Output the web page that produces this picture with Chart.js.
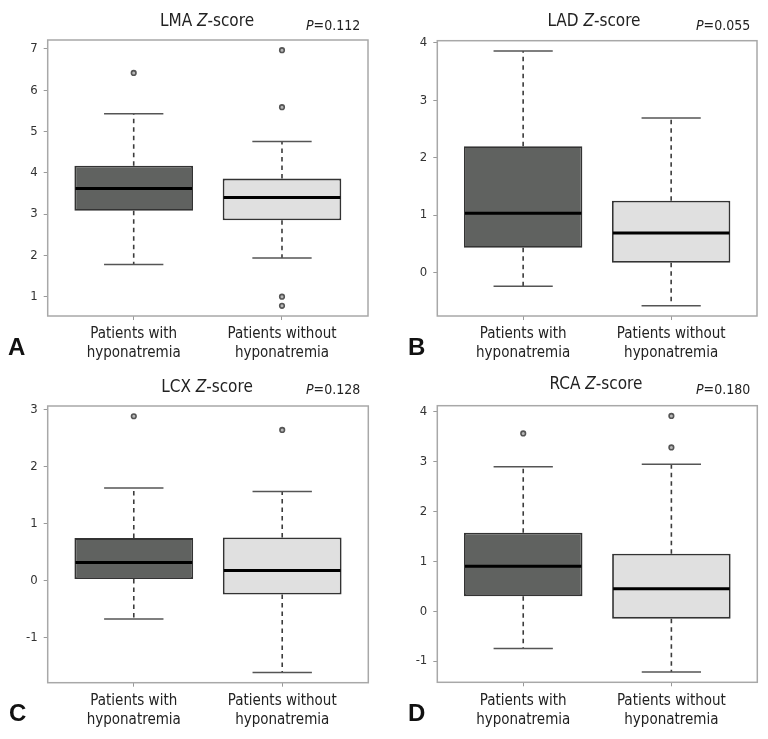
<!DOCTYPE html>
<html>
<head>
<meta charset="utf-8">
<script src="https://cdn.jsdelivr.net/npm/chart.js@4.4.0/dist/chart.umd.min.js"></script>
<style>
  body { margin: 0; background: #fff; width: 768px; height: 739px; position: relative; overflow: hidden;
         font-family: "Liberation Sans Narrow", "DejaVu Sans Condensed", "Liberation Sans", sans-serif; color: #222; }
  .panel { position: absolute; width: 384px; }
  .panel canvas { position: absolute; left: 0; top: 0; }
  .title { position: absolute; font-size: 17px; line-height: 17px; transform: translateX(-50%); white-space: nowrap; }
  .pval { position: absolute; font-size: 14px; line-height: 14px; white-space: nowrap; }
  .letter { position: absolute; font-family: "Liberation Sans", Arial, sans-serif; font-weight: bold; font-size: 24px; line-height: 24px; color: #111; }
</style>
</head>
<body>

<div class="panel" style="left:0;top:0;height:370px"><canvas id="cA"></canvas></div>
<div class="panel" style="left:384px;top:0;height:370px"><canvas id="cB"></canvas></div>
<div class="panel" style="left:0;top:370px;height:369px"><canvas id="cC"></canvas></div>
<div class="panel" style="left:384px;top:370px;height:369px"><canvas id="cD"></canvas></div>

<div class="title" style="left:207px;top:12px">LMA <i>Z</i>-score</div>
<div class="pval" style="left:306px;top:18px"><i>P</i>=0.112</div>
<div class="letter" style="left:8px;top:335px">A</div>

<div class="title" style="left:594px;top:12px">LAD <i>Z</i>-score</div>
<div class="pval" style="left:696px;top:18px"><i>P</i>=0.055</div>
<div class="letter" style="left:408px;top:335px">B</div>

<div class="title" style="left:207px;top:378px">LCX <i>Z</i>-score</div>
<div class="pval" style="left:306px;top:382px"><i>P</i>=0.128</div>
<div class="letter" style="left:9px;top:701px">C</div>

<div class="title" style="left:596px;top:375px">RCA <i>Z</i>-score</div>
<div class="pval" style="left:696px;top:382px"><i>P</i>=0.180</div>
<div class="letter" style="left:408px;top:701px">D</div>

<script>
// categories (two-line tick labels)
const groupLabels = [['Patients with', 'hyponatremia'], ['Patients without', 'hyponatremia']];

// LMA Z-score: [with, without]
const lmaLow = [1.78, 1.94];
const lmaQ1 = [3.08, 2.85];
const lmaMed = [3.62, 3.40];
const lmaQ3 = [4.17, 3.86];
const lmaHigh = [5.43, 4.76];
const lmaOutWith = [6.42];
const lmaOutWithout = [6.97, 5.59, 1.00, 0.78];
const lmaTicks = [1, 2, 3, 4, 5, 6, 7];

// LAD Z-score
const ladLow = [-0.24, -0.58];
const ladQ1 = [0.43, 0.17];
const ladMed = [1.03, 0.69];
const ladQ3 = [2.20, 1.25];
const ladHigh = [3.86, 2.69];
const ladOutWith = [];
const ladOutWithout = [];
const ladTicks = [0, 1, 2, 3, 4];

// LCX Z-score
const lcxLow = [-0.67, -1.61];
const lcxQ1 = [0.03, -0.24];
const lcxMed = [0.32, 0.18];
const lcxQ3 = [0.75, 0.76];
const lcxHigh = [1.63, 1.57];
const lcxOutWith = [2.89];
const lcxOutWithout = [2.65];
const lcxTicks = [-1, 0, 1, 2, 3];

// RCA Z-score
const rcaLow = [-0.75, -1.22];
const rcaQ1 = [0.30, -0.15];
const rcaMed = [0.90, 0.45];
const rcaQ3 = [1.57, 1.15];
const rcaHigh = [2.89, 2.94];
const rcaOutWith = [3.56];
const rcaOutWithout = [3.91, 3.28];
const rcaTicks = [-1, 0, 1, 2, 3, 4];

const boxFill = ['#606260', '#e0e0e0'];
const FONT = '"Liberation Sans Narrow", "DejaVu Sans Condensed", "Liberation Sans", sans-serif';

// whiskers, caps, medians and the frame, drawn through the chart scales
const boxPlot = {
  id: 'boxPlot',
  beforeDatasetsDraw(chart, args, o) {
    const { ctx, scales: { x, y } } = chart;
    const half = x.getPixelForValue(1.4) - x.getPixelForValue(1);
    ctx.save();
    o.low.forEach((lo, i) => {
      const cx = x.getPixelForValue(i + 1);
      ctx.strokeStyle = '#3c3c3c';
      ctx.lineWidth = 1.6;
      ctx.setLineDash([4.5, 4]);
      ctx.beginPath();
      ctx.moveTo(cx, y.getPixelForValue(o.q3[i])); ctx.lineTo(cx, y.getPixelForValue(o.high[i]));
      ctx.moveTo(cx, y.getPixelForValue(o.q1[i])); ctx.lineTo(cx, y.getPixelForValue(lo));
      ctx.stroke();
      ctx.setLineDash([]);
      ctx.strokeStyle = '#555';
      ctx.lineWidth = 1.5;
      ctx.beginPath();
      [o.high[i], lo].forEach(v => {
        const py = y.getPixelForValue(v);
        ctx.moveTo(cx - half / 2, py); ctx.lineTo(cx + half / 2, py);
      });
      ctx.stroke();
    });
    ctx.restore();
  },
  afterDatasetsDraw(chart, args, o) {
    const { ctx, chartArea: a, scales: { x, y } } = chart;
    const half = x.getPixelForValue(1.4) - x.getPixelForValue(1);
    ctx.save();
    ctx.strokeStyle = '#000';
    ctx.lineWidth = 3;
    o.med.forEach((m, i) => {
      const cx = x.getPixelForValue(i + 1);
      const py = y.getPixelForValue(m);
      ctx.beginPath();
      ctx.moveTo(cx - half + 1, py); ctx.lineTo(cx + half - 1, py);
      ctx.stroke();
    });
    ctx.strokeStyle = '#a8a8a8';
    ctx.lineWidth = 1.5;
    ctx.strokeRect(a.left, a.top, a.right - a.left, a.bottom - a.top);
    ctx.restore();
  }
};

function drawPanel(id, h, left, right, top, bottom, low, q1, med, q3, high, outWith, outWithout, yTicks) {
  const all = low.concat(high, outWith, outWithout);
  const lo = Math.min(...all), hi = Math.max(...all), ext = (hi - lo) * 0.04;
  const outliers = outWith.map(v => ({ x: 1, y: v })).concat(outWithout.map(v => ({ x: 2, y: v })));
  return new Chart(document.getElementById(id), {
    type: 'bar',
    data: {
      datasets: [
        {
          type: 'bar',
          data: q1.map((v, i) => ({ x: i + 1, y: [v, q3[i]] })),
          backgroundColor: boxFill,
          borderColor: '#333',
          borderWidth: 1.8,
          borderSkipped: false,
          barPercentage: 0.8,
          categoryPercentage: 1
        },
        {
          type: 'scatter',
          data: outliers,
          pointRadius: 2.3,
          pointBorderWidth: 1.6,
          pointBorderColor: '#555',
          pointBackgroundColor: '#b8b8b8'
        }
      ]
    },
    options: {
      responsive: false,
      animation: false,
      devicePixelRatio: 1,
      layout: { padding: { left: 0, right: 384 - right, top: top, bottom: 0 } },
      plugins: {
        legend: { display: false },
        tooltip: { enabled: false },
        boxPlot: { low, q1, med, q3, high }
      },
      scales: {
        x: {
          type: 'linear',
          min: 0.42, max: 2.58,
          offset: false,
          afterBuildTicks: s => { s.ticks = [{ value: 1 }, { value: 2 }]; },
          afterFit: s => { s.height = h - bottom; },
          border: { display: false },
          grid: { drawOnChartArea: false, drawTicks: true, tickLength: 4, color: '#999', offset: false },
          ticks: {
            padding: 5,
            maxRotation: 0,
            autoSkip: false,
            color: '#222',
            font: { family: FONT, size: 15, lineHeight: 1.27 },
            callback: v => groupLabels[v - 1]
          }
        },
        y: {
          min: lo - ext, max: hi + ext,
          afterBuildTicks: s => { s.ticks = yTicks.map(v => ({ value: v })); },
          afterFit: s => { s.width = left; },
          border: { display: false },
          grid: { drawOnChartArea: false, drawTicks: true, tickLength: 4, color: '#999' },
          ticks: { padding: 6, color: '#333', font: { family: FONT, size: 13 } }
        }
      }
    },
    plugins: [boxPlot]
  });
}

function sizeCanvas(id, h) {
  const c = document.getElementById(id);
  c.width = 384; c.height = h;
  c.style.width = '384px'; c.style.height = h + 'px';
}
sizeCanvas('cA', 370); sizeCanvas('cB', 370); sizeCanvas('cC', 369); sizeCanvas('cD', 369);

drawPanel('cA', 370, 47.7, 368, 40, 316, lmaLow, lmaQ1, lmaMed, lmaQ3, lmaHigh, lmaOutWith, lmaOutWithout, lmaTicks);
drawPanel('cB', 370, 53.3, 373, 40.7, 316, ladLow, ladQ1, ladMed, ladQ3, ladHigh, ladOutWith, ladOutWithout, ladTicks);
drawPanel('cC', 369, 47.7, 368.3, 36, 312.7, lcxLow, lcxQ1, lcxMed, lcxQ3, lcxHigh, lcxOutWith, lcxOutWithout, lcxTicks);
drawPanel('cD', 369, 53.3, 373.3, 35.7, 312.3, rcaLow, rcaQ1, rcaMed, rcaQ3, rcaHigh, rcaOutWith, rcaOutWithout, rcaTicks);
</script>
</body>
</html>
